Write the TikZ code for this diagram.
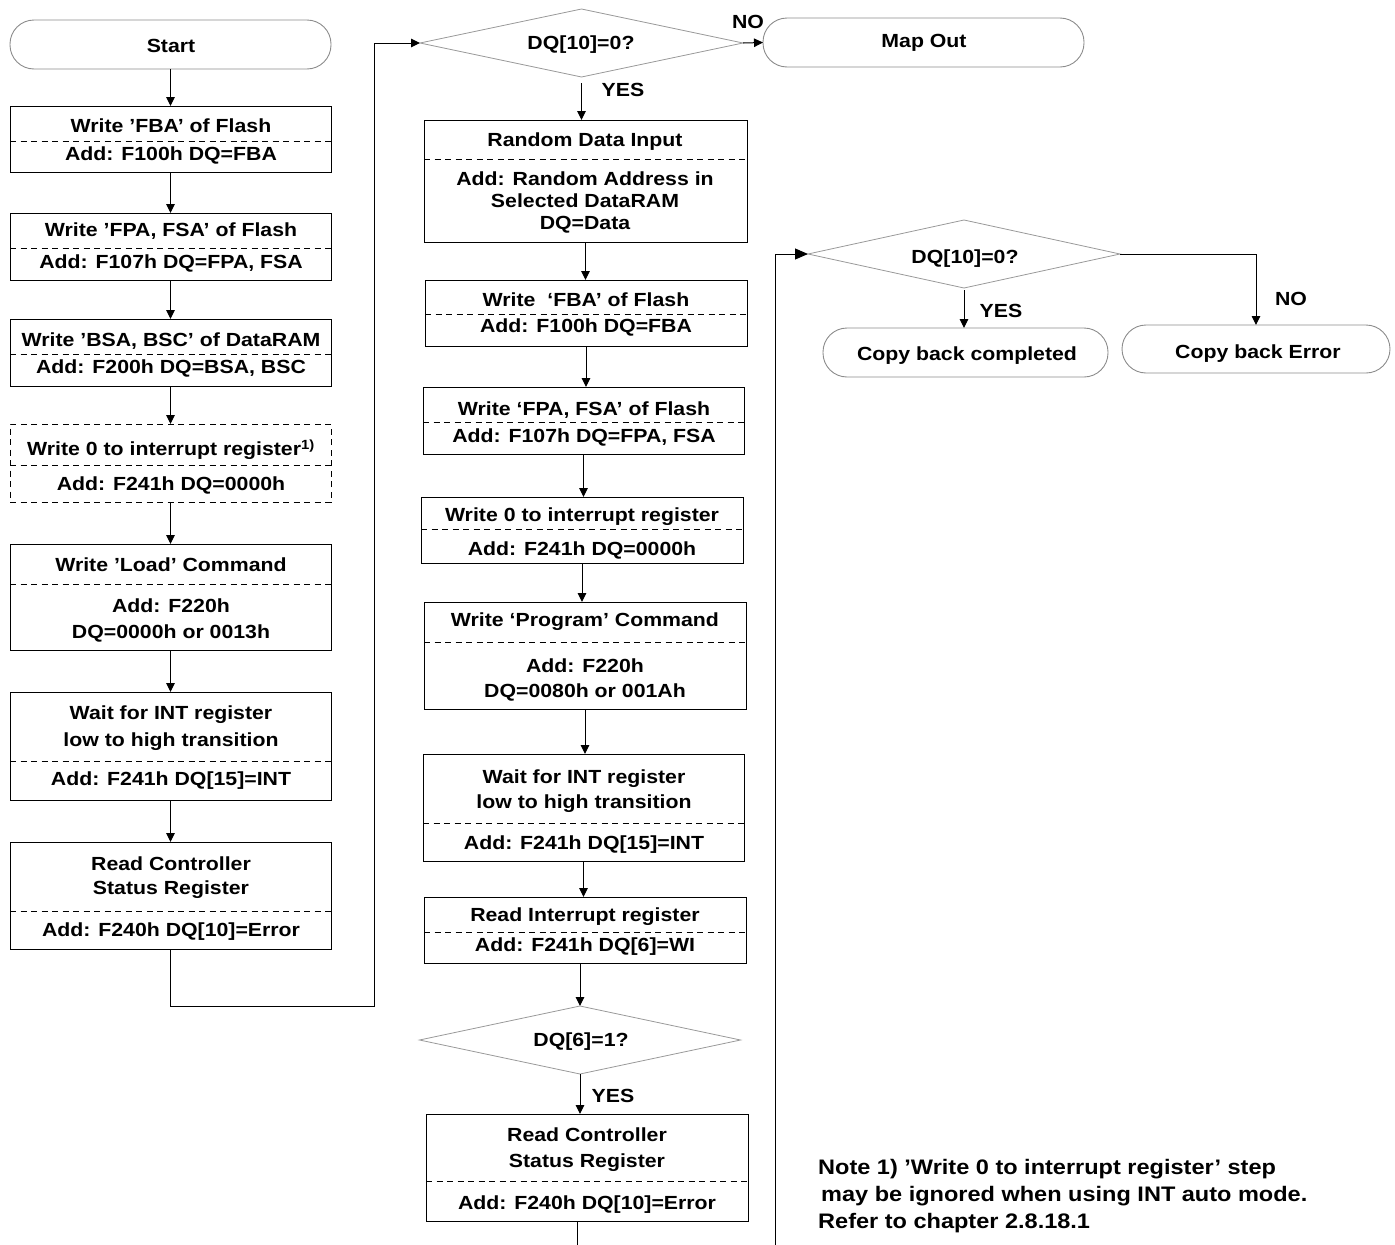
\documentclass[tikz,border=0pt]{standalone}
\usepackage{fontspec}
\setmainfont{Liberation Sans}[FakeStretch=1.12]
\usetikzlibrary{arrows.meta,shapes.geometric}
\tikzset{
  pbox/.style={draw=black, line width=1pt, rectangle, inner sep=0pt, outer sep=0pt},
  dbox/.style={pbox, dash pattern=on 6pt off 4.5pt},
  term/.style={draw=black!45, line width=0.9pt, rectangle, rounded corners=24pt, inner sep=0pt, outer sep=0pt},
  dia/.style={draw=black!40, line width=0.8pt, diamond, inner sep=0pt, outer sep=0pt},
  sepline/.style={line width=0.9pt, dash pattern=on 6pt off 4.5pt},
  txt/.style={font=\fontsize{19}{22}\selectfont\bfseries, inner sep=0pt, text height=13.6pt, text depth=0pt},
  notetxt/.style={txt, font=\fontsize{21}{24}\selectfont\bfseries, text height=15pt, anchor=west},
  conn/.style={line width=1pt},
  arr/.style={conn, -{Triangle[length=9pt,width=8.5pt]}},
  arrbig/.style={conn, -{Triangle[length=13pt,width=11pt]}},
}
\newcommand{\mkbox}[6]{\node[#6, minimum width={#3-#2}, minimum height={#5-#4}] (#1) at ({(#2+#3)/2},{(#4+#5)/2}) {};}
\newcommand{\mkdia}[5]{\node[dia, minimum width=#4, minimum height=#5] (#1) at (#2,#3) {};}
\newcommand{\mksep}[2]{\path (0,#2) coordinate (sepy); \draw[sepline] (#1.west |- sepy) -- (#1.east |- sepy);}
\newcommand{\txt}[4]{\node[txt] (#1) at (#2,#3) {#4};}
\begin{document}
\begin{tikzpicture}[x=1pt,y=-1pt]
\useasboundingbox (0,0) rectangle (1395,1245);
% ---------- left column ----------
\mkbox{s}{10}{331}{20}{69}{term}
\mkbox{L1}{10}{331}{106}{172}{pbox}\mksep{L1}{141}
\mkbox{L2}{10}{331}{213}{280}{pbox}\mksep{L2}{248}
\mkbox{L3}{10}{331}{319}{386}{pbox}\mksep{L3}{354}
\mkbox{L4}{10}{331}{424}{502}{dbox}\mksep{L4}{465}
\mkbox{L5}{10}{331}{544}{650}{pbox}\mksep{L5}{584}
\mkbox{L6}{10}{331}{692}{800}{pbox}\mksep{L6}{761}
\mkbox{L7}{10}{331}{842}{949}{pbox}\mksep{L7}{911}
\txt{ts}{171}{46}{Start}
\txt{tL1a}{171}{126}{Write ’FBA’ of Flash}
\txt{tL1b}{171}{153.5}{Add: F100h DQ=FBA}
\txt{tL2a}{171}{229.5}{Write ’FPA, FSA’ of Flash}
\txt{tL2b}{171}{261.5}{Add: F107h DQ=FPA, FSA}
\txt{tL3a}{171}{340}{Write ’BSA, BSC’ of DataRAM}
\txt{tL3b}{171}{367}{Add: F200h DQ=BSA, BSC}
\txt{tL4a}{171}{449}{Write 0 to interrupt register\textsuperscript{1)}}
\txt{tL4b}{171}{484}{Add: F241h DQ=0000h}
\txt{tL5a}{171}{565}{Write ’Load’ Command}
\txt{tL5b}{171}{606}{Add: F220h}
\txt{tL5c}{171}{632}{DQ=0000h or 0013h}
\txt{tL6a}{171}{713}{Wait for INT register}
\txt{tL6b}{171}{740}{low to high transition}
\txt{tL6c}{171}{779}{Add: F241h DQ[15]=INT}
\txt{tL7a}{171}{864}{Read Controller}
\txt{tL7b}{171}{888}{Status Register}
\txt{tL7c}{171}{930}{Add: F240h DQ[10]=Error}
% ---------- middle column ----------
\mkdia{d1}{581.5}{43}{323}{68}
\mkbox{mo}{763}{1084}{18}{67}{term}
\mkbox{M1}{424}{747}{120}{242}{pbox}\mksep{M1}{159}
\mkbox{M2}{425}{747}{280}{346}{pbox}\mksep{M2}{314}
\mkbox{M3}{423}{744}{387}{454}{pbox}\mksep{M3}{422}
\mkbox{M4}{421}{743}{497}{563}{pbox}\mksep{M4}{529}
\mkbox{M5}{424}{746}{602}{709}{pbox}\mksep{M5}{642}
\mkbox{M6}{423}{744}{754}{861}{pbox}\mksep{M6}{823}
\mkbox{M7}{424}{746}{897}{963}{pbox}\mksep{M7}{932}
\mkdia{d3}{580}{1040}{321}{68}
\mkbox{M8}{426}{748}{1114}{1221}{pbox}\mksep{M8}{1181}
\txt{td1}{581}{43}{DQ[10]=0?}
\txt{tmo}{924}{41}{Map Out}
\txt{tM1a}{585}{140}{Random Data Input}
\txt{tM1b}{585}{179}{Add: Random Address in}
\txt{tM1c}{585}{201}{Selected DataRAM}
\txt{tM1d}{585}{223}{DQ=Data}
\txt{tM2a}{586}{300}{Write\ \ ‘FBA’ of Flash}
\txt{tM2b}{586}{325.5}{Add: F100h DQ=FBA}
\txt{tM3a}{584}{408.5}{Write ‘FPA, FSA’ of Flash}
\txt{tM3b}{584}{435.5}{Add: F107h DQ=FPA, FSA}
\txt{tM4a}{582}{515}{Write 0 to interrupt register}
\txt{tM4b}{582}{549}{Add: F241h DQ=0000h}
\txt{tM5a}{585}{620}{Write ‘Program’ Command}
\txt{tM5b}{585}{665.5}{Add: F220h}
\txt{tM5c}{585}{691}{DQ=0080h or 001Ah}
\txt{tM6a}{584}{776.5}{Wait for INT register}
\txt{tM6b}{584}{802}{low to high transition}
\txt{tM6c}{584}{843}{Add: F241h DQ[15]=INT}
\txt{tM7a}{585}{914.5}{Read Interrupt register}
\txt{tM7b}{585}{944.5}{Add: F241h DQ[6]=WI}
\txt{td3}{581}{1040}{DQ[6]=1?}
\txt{tM8a}{587}{1134.5}{Read Controller}
\txt{tM8b}{587}{1160.5}{Status Register}
\txt{tM8c}{587}{1202.5}{Add: F240h DQ[10]=Error}
% ---------- right column ----------
\mkdia{d2}{964}{254}{312}{68}
\mkbox{cbc}{823}{1108}{328}{377}{term}
\mkbox{cbe}{1122}{1390}{325}{373}{term}
\txt{td2}{965}{257}{DQ[10]=0?}
\txt{tcbc}{967}{354}{Copy back completed}
\txt{tcbe}{1258}{352}{Copy back Error}
% ---------- labels ----------
\txt{no1}{748}{22}{NO}
\txt{yes1}{623}{90}{YES}
\txt{yes3}{613}{1096}{YES}
\txt{yes2}{1001}{310.5}{YES}
\txt{no2}{1291}{299}{NO}
% ---------- note ----------
\node[notetxt] (n1) at (818,1167) {Note 1) ’Write 0 to interrupt register’ step};
\node[notetxt] (n2) at (821,1194) {may be ignored when using INT auto mode.};
\node[notetxt] (n3) at (818,1221) {Refer to chapter 2.8.18.1};
% ---------- connectors ----------
\draw[arr] (s.south) -- (L1.north);
\draw[arr] (L1.south) -- (L2.north);
\draw[arr] (L2.south) -- (L3.north);
\draw[arr] (L3.south) -- (L4.north);
\draw[arr] (L4.south) -- (L5.north);
\draw[arr] (L5.south) -- (L6.north);
\draw[arr] (L6.south) -- (L7.north);
\coordinate (lp) at (374,1006);
\draw[arr] (L7.south) |- (lp) |- (d1.west);
\draw[arr] (d1.east) -- (mo.west);
\draw[arr] ([yshift=-6pt]d1.south) -- (d1.south |- M1.north);
\draw[arr] (M1.south) -- (M1.south |- M2.north);
\draw[arr] (M2.south) -- (M2.south |- M3.north);
\draw[arr] (M3.south) -- (M3.south |- M4.north);
\draw[arr] (M4.south) -- (M4.south |- M5.north);
\draw[arr] (M5.south) -- (M5.south |- M6.north);
\draw[arr] (M6.south) -- (M6.south |- M7.north);
\draw[arr] (d3.north |- M7.south) -- (d3.north);
\draw[arr] (d3.south) -- (d3.south |- M8.north);
\coordinate (bl) at (577,1245);
\draw[conn] (bl |- M8.south) -- (bl);
\coordinate (br) at (775,1245);
\draw[arrbig] (br) |- (d2.west);
\draw[arr] ([yshift=-2pt]d2.south) -- (d2.south |- cbc.north);
\draw[arr] (d2.east) -| (cbe.north);
\end{tikzpicture}
\end{document}
